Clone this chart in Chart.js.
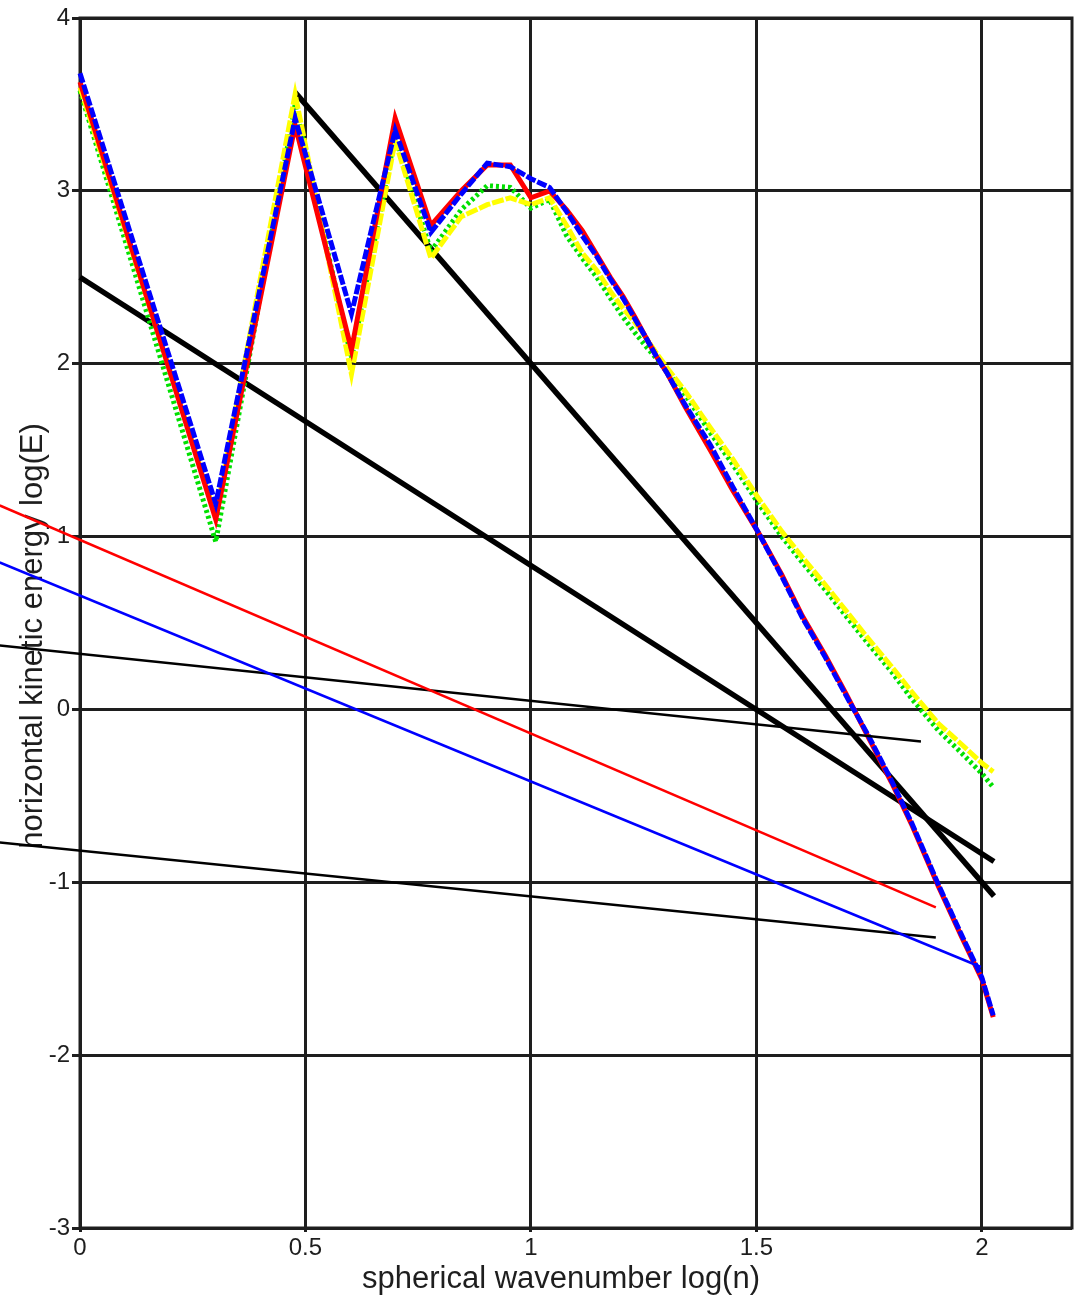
<!DOCTYPE html>
<html>
<head>
<meta charset="utf-8">
<title>Horizontal kinetic energy spectra</title>
<script src="https://cdn.jsdelivr.net/npm/chart.js@4.4.1/dist/chart.umd.min.js"></script>
<style>
  html, body { margin: 0; padding: 0; background: #fff; }
  #wrap { width: 1080px; height: 1298px; }
</style>
</head>
<body>
<div id="wrap"><canvas id="spectrum" width="1080" height="1298"></canvas></div>
<script>
// Spherical wavenumbers n (plotted as log10 n)
const wavenumbers = [1, 2, 3, 4, 5, 6, 7, 8, 9, 10, 11, 12, 13, 14, 15, 16, 17, 18, 19, 20,
                     22, 25, 28, 32, 36, 40, 45, 50, 56, 63, 70, 80, 90, 100, 106];

// log10 of horizontal kinetic energy for the four runs
const energyRed = [3.63, 1.10, 3.38, 2.08, 3.42, 2.80, 3.00, 3.15, 3.15, 2.96, 3.00, 2.89, 2.77, 2.63, 2.50, 2.39, 2.27, 2.15, 2.04, 1.95,
                   1.75, 1.50, 1.27, 1.02, 0.78, 0.54, 0.31, 0.09, -0.16, -0.42, -0.67, -1.02, -1.31, -1.56, -1.78];
const energyBlue = [3.68, 1.19, 3.42, 2.29, 3.35, 2.76, 2.98, 3.16, 3.14, 3.07, 3.02, 2.88, 2.74, 2.62, 2.49, 2.38, 2.26, 2.15, 2.04, 1.95,
                    1.76, 1.53, 1.29, 1.02, 0.77, 0.53, 0.30, 0.08, -0.15, -0.41, -0.66, -1.01, -1.30, -1.55, -1.77];
const energyGreen = [3.58, 0.97, 3.50, 2.03, 3.32, 2.65, 2.89, 3.03, 3.02, 2.90, 2.95, 2.74, 2.61, 2.50, 2.38, 2.27, 2.18, 2.10, 2.03, 1.96,
                     1.82, 1.60, 1.42, 1.19, 1.00, 0.85, 0.69, 0.54, 0.38, 0.22, 0.06, -0.12, -0.25, -0.37, -0.45];
const energyYellow = [3.60, 1.12, 3.56, 1.94, 3.29, 2.61, 2.85, 2.92, 2.96, 2.92, 2.96, 2.80, 2.64, 2.54, 2.42, 2.32, 2.24, 2.15, 2.06, 1.98,
                      1.84, 1.63, 1.45, 1.22, 1.03, 0.88, 0.72, 0.57, 0.41, 0.25, 0.10, -0.08, -0.20, -0.31, -0.36];

// Reference slopes (end points in log n, log E)
const slopeMinus53 = [[0, 2.50], [2.027, -0.88]];
const slopeMinus3 = [[0.477, 3.57], [2.027, -1.08]];

// Fitted lines
const fitRed = [[-0.178, 1.18], [1.898, -1.145]];
const fitBlue = [[-0.178, 0.85], [1.998, -1.49]];
const fitBlackUpper = [[-0.178, 0.37], [1.865, -0.185]];
const fitBlackLower = [[-0.178, -0.77], [1.898, -1.32]];

// Axes
const xTickValues = [0, 0.5, 1, 1.5, 2];
const xRange = [0, 2.2];
const yRange = [-3, 4];
const xTitle = 'spherical wavenumber log(n)';
const yTitle = 'horizontal kinetic energy log(E)';

const spectrumPoints = values => wavenumbers.map((n, i) => ({ x: Math.log10(n), y: values[i] }));
const segmentPoints = pts => pts.map(p => ({ x: p[0], y: p[1] }));

const FONT = '"Liberation Sans", Arial, Helvetica, sans-serif';
const INK = '#1e1e1e';

// Plot frame and axis titles, drawn beneath the data
const frameAndTitles = {
  id: 'frameAndTitles',
  beforeDatasetsDraw(chart) {
    const { ctx, chartArea: a } = chart;
    ctx.save();
    ctx.strokeStyle = INK;
    ctx.lineWidth = 3;
    ctx.strokeRect(a.left, a.top, a.right - a.left, a.bottom - a.top);
    ctx.fillStyle = INK;
    ctx.font = '31px ' + FONT;
    ctx.textAlign = 'center';
    ctx.textBaseline = 'alphabetic';
    ctx.fillText(xTitle, 561, 1288);
    ctx.translate(42, 636);
    ctx.rotate(-Math.PI / 2);
    ctx.fillText(yTitle, 0, 0);
    ctx.restore();
  }
};

const spectrumStyle = (color, dash, order) => ({
  borderColor: color,
  backgroundColor: color,
  borderWidth: 5,
  borderDash: dash,
  pointRadius: 0,
  tension: 0,
  fill: false,
  clip: false,
  order: order
});

const straightStyle = (color, width, order) => ({
  borderColor: color,
  backgroundColor: color,
  borderWidth: width,
  pointRadius: 0,
  fill: false,
  clip: false,
  order: order
});

new Chart(document.getElementById('spectrum'), {
  type: 'line',
  data: {
    datasets: [
      Object.assign({ label: 'fit red', data: segmentPoints(fitRed) }, straightStyle('#ff0000', 2.5, 0)),
      Object.assign({ label: 'fit blue', data: segmentPoints(fitBlue) }, straightStyle('#0000ff', 2.5, 0)),
      Object.assign({ label: 'fit upper', data: segmentPoints(fitBlackUpper) }, straightStyle('#000000', 2.5, 0)),
      Object.assign({ label: 'fit lower', data: segmentPoints(fitBlackLower) }, straightStyle('#000000', 2.5, 0)),
      Object.assign({ label: 'blue', data: spectrumPoints(energyBlue) }, spectrumStyle('#0000ff', [10, 2], 1)),
      Object.assign({ label: 'red', data: spectrumPoints(energyRed) }, spectrumStyle('#ff0000', [], 2)),
      Object.assign({ label: 'yellow', data: spectrumPoints(energyYellow) }, spectrumStyle('#ffff00', [12, 2], 3)),
      Object.assign({ label: 'green', data: spectrumPoints(energyGreen) }, spectrumStyle('#00e000', [3, 3], 4)),
      Object.assign({ label: 'n^-5/3', data: segmentPoints(slopeMinus53) }, straightStyle('#000000', 5.5, 5)),
      Object.assign({ label: 'n^-3', data: segmentPoints(slopeMinus3) }, straightStyle('#000000', 5.5, 5))
    ]
  },
  options: {
    responsive: false,
    animation: false,
    devicePixelRatio: 1,
    layout: { padding: { top: 18, right: 8, left: 0, bottom: 0 } },
    plugins: { legend: { display: false }, tooltip: { enabled: false } },
    scales: {
      x: {
        type: 'linear',
        min: xRange[0],
        max: xRange[1],
        afterBuildTicks: s => { s.ticks = xTickValues.map(v => ({ value: v })); },
        afterFit: s => { s.height = 70; },
        grid: { color: INK, lineWidth: 3, tickLength: 4 },
        border: { display: false },
        ticks: { color: INK, padding: 2, font: { family: FONT, size: 24 }, callback: v => String(v) }
      },
      y: {
        type: 'linear',
        min: yRange[0],
        max: yRange[1],
        afterFit: s => { s.width = 80; },
        grid: { color: INK, lineWidth: 3, tickLength: 8 },
        border: { display: false },
        ticks: { stepSize: 1, color: INK, padding: 2, font: { family: FONT, size: 24 }, callback: v => String(v) }
      }
    }
  },
  plugins: [frameAndTitles]
});
</script>
</body>
</html>
